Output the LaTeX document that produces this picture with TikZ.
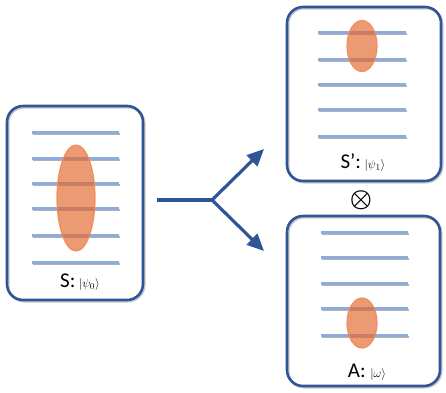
\documentclass[tikz,border=0pt]{standalone}
\usepackage{fontspec}
\setmainfont{Carlito}
\usepackage{amsmath}
\usepackage{amssymb}
\usepackage{bm}
\usepackage {tikz}
\usetikzlibrary {positioning}
\usetikzlibrary{shapes.geometric}
\usetikzlibrary{arrows.meta}
\definecolor{boxblue}{HTML}{2F5597}
\definecolor{levelblue}{HTML}{8FAADC}
\definecolor{blobfill}{HTML}{E2662A}
\definecolor{blobedge}{HTML}{F08A55}
\tikzset{
    statebox/.style = {rectangle,draw=boxblue,line width=2.6pt,rounded corners=16pt,
        preaction={draw=black!20,line width=2.6pt,transform canvas={xshift=1.2pt,yshift=-1.2pt}}},
    level/.style = {levelblue,line width=3pt,
        preaction={draw=black!30,line width=2pt,transform canvas={xshift=0.8pt,yshift=-1.5pt}}},
    blob/.style = {ellipse,draw=blobedge,draw opacity=0.9,line width=1.2pt,fill=blobfill,fill opacity=0.66,inner sep=0pt},
    branch/.style = {boxblue,line width=3.2pt},
    statelabel/.style = {inner sep=0pt,font=\fontsize{21}{24}\selectfont}}
\newcommand{\ketsmall}[1]{{\fontsize{13}{14}\selectfont$|#1\rangle$}}

\begin{document}
\begin{tikzpicture}[x=1pt,y=-1pt]
    \useasboundingbox (0,0) rectangle (446,392);
    % initial state S
    \node[statebox,minimum width=136pt,minimum height=194pt] (boxS) at (75,203) {};
    \draw[level] (32,132) -- (119,132);
    \draw[level] (32,158) -- (119,158);
    \draw[level] (32,183) -- (119,183);
    \draw[level] (32,208) -- (119,208);
    \draw[level] (32,235) -- (119,235);
    \draw[level] (32,262) -- (119,262);
    \node[blob,minimum width=38pt,minimum height=106pt] (psiS) at (76,198) {};
    \node[statelabel] (labS) at (80,282) {S:\,\ketsmall{\psi_0}};
    % split
    \coordinate (stem) at (157,200);
    \coordinate (split) at (212,200);
    \coordinate (upTip) at (264,149);
    \coordinate (downTip) at (264,251);
    \draw[branch] (stem) -- (split);
    \draw[branch,-{Triangle[length=17pt,width=15pt]}] (split) -- (upTip);
    \draw[branch,-{Triangle[length=17pt,width=15pt]}] (split) -- (downTip);
    % system S'
    \node[statebox,minimum width=154pt,minimum height=174pt] (boxSp) at (364,94) {};
    \draw[level] (318,32) -- (406,32);
    \draw[level] (318,59) -- (406,59);
    \draw[level] (318,84) -- (406,84);
    \draw[level] (318,109) -- (406,109);
    \draw[level] (318,136) -- (406,136);
    \node[blob,minimum width=30pt,minimum height=51pt] (psiSp) at (362,46) {};
    \node[statelabel] (labSp) at (363,163) {S’:\,\ketsmall{\psi_1}};
    \node[inner sep=0pt,font=\fontsize{24}{26}\selectfont] (tensor) at (361,200) {$\bm{\otimes}$};
    % ancilla A
    \node[statebox,minimum width=153pt,minimum height=170pt] (boxA) at (363.5,301) {};
    \draw[level] (321,232) -- (408,232);
    \draw[level] (321,257) -- (408,257);
    \draw[level] (321,283) -- (408,283);
    \draw[level] (321,308) -- (408,308);
    \draw[level] (321,335) -- (408,335);
    \node[blob,minimum width=30pt,minimum height=50pt] (omegaA) at (362,323) {};
    \node[statelabel] (labA) at (367,372) {A:\ \ketsmall{\omega}};
\end{tikzpicture}
\end{document}
